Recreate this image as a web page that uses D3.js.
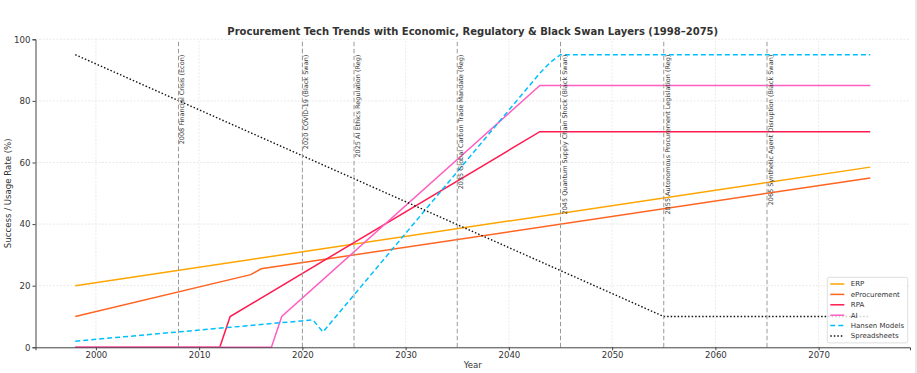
<!DOCTYPE html>
<html>
<head>
<meta charset="utf-8">
<script src="https://cdn.jsdelivr.net/npm/d3@7"></script>
<style>
	body { margin: 0; background: #fff; }
	svg { font-family: "DejaVu Sans", sans-serif; }
</style>
</head>
<body>
<div id="chart"></div>
<script>

// series breakpoints [year, value]
var erp = [ [1998, 20], [2075, 58.5] ];
var eproc = [ [1998, 10], [2015, 23.6], [2016, 25.5], [2075, 55] ];
var rpa = [ [1998, 0], [2012, 0], [2013, 10], [2043, 70], [2075, 70] ];
var ai = [ [1998, 0], [2017, 0], [2018, 10], [2043, 85], [2075, 85] ];
var hansen = [ [1998, 2], [2021, 8.9], [2022, 5], [2043, 89], [2044, 92.5], [2045, 95], [2075, 95] ];
var sheets = [ [1998, 95], [2055, 10], [2075, 10] ];

// event layers
var eventYears = [ 2008, 2020, 2025, 2035, 2045, 2055, 2065 ];
var eventLabels = [
	"2008 Financial Crisis (Econ)",
	"2020 COVID-19 (Black Swan)",
	"2025 AI Ethics Regulation (Reg)",
	"2035 Global Carbon Trade Mandate (Reg)",
	"2045 Quantum Supply Chain Shock (Black Swan)",
	"2055 Autonomous Procurement Legislation (Reg)",
	"2065 Synthetic Agent Disruption (Black Swan)"
];

var xTicks = [ 2000, 2010, 2020, 2030, 2040, 2050, 2060, 2070 ];
var yTicks = [ 0, 20, 40, 60, 80, 100 ];

var series = [
	{ name: "ERP", data: erp, color: "#ffa500", dash: null },
	{ name: "eProcurement", data: eproc, color: "#ff6421", dash: null },
	{ name: "RPA", data: rpa, color: "#ff1a4f", dash: null },
	{ name: "AI", data: ai, color: "#ff5ec0", dash: null },
	{ name: "Hansen Models", data: hansen, color: "#00bfff", dash: "5,3" },
	{ name: "Spreadsheets", data: sheets, color: "#111", dash: "1.5,2" }
];

var W = 917, H = 373;
var margin = { top: 39.3, right: 7, bottom: 25.7, left: 35.5 };

var svg = d3.select("#chart").append("svg")
	.attr("width", W)
	.attr("height", H);

var x = d3.scaleLinear()
	.domain([ 1994.15, 2078.85 ])
	.range([ margin.left, W - margin.right ]);

var y = d3.scaleLinear()
	.domain([ 0, 100 ])
	.range([ H - margin.bottom, margin.top ]);

// grid
var grid = svg.append("g");
grid.selectAll(".gx").data(xTicks).join("line")
	.attr("x1", d => x(d)).attr("x2", d => x(d))
	.attr("y1", y(0)).attr("y2", y(100))
	.attr("stroke", "#e4e4e4").attr("stroke-width", 0.8)
	.attr("stroke-dasharray", "2,1.5");
grid.selectAll(".gy").data(yTicks).join("line")
	.attr("x1", x.range()[0]).attr("x2", x.range()[1])
	.attr("y1", d => y(d)).attr("y2", d => y(d))
	.attr("stroke", "#e4e4e4").attr("stroke-width", 0.8)
	.attr("stroke-dasharray", "2,1.5");

// lines
var line = d3.line()
	.x(d => x(d[0]))
	.y(d => y(d[1]));

svg.append("g").selectAll("path")
	.data(series)
	.join("path")
		.attr("d", d => line(d.data))
		.attr("fill", "none")
		.attr("stroke", d => d.color)
		.attr("stroke-width", d => d.name === "Spreadsheets" ? 1.4 : 1.5)
		.attr("stroke-dasharray", d => d.dash);

// event lines + labels
var ev = svg.append("g");
ev.selectAll("line").data(eventYears).join("line")
	.attr("x1", d => x(d)).attr("x2", d => x(d))
	.attr("y1", y(0)).attr("y2", y(100))
	.attr("stroke", "#9a9a9a").attr("stroke-width", 1)
	.attr("stroke-dasharray", "4.5,2.5");
ev.selectAll("text").data(eventYears).join("text")
	.attr("transform", d => `translate(${x(d) + 0.8},${y(95)}) rotate(-90)`)
	.attr("text-anchor", "end")
	.attr("dy", "0.8em")
	.attr("font-size", "6.5px")
	.attr("fill", "#3a3a3a")
	.text((d, i) => eventLabels[i]);

// axes
var xaxis = svg.append("g")
	.attr("transform", `translate(0,${y(0)})`)
	.call(d3.axisBottom(x).tickValues(xTicks).tickFormat(d3.format("d")).tickSize(3).tickPadding(2));
var yaxis = svg.append("g")
	.attr("transform", `translate(${x.range()[0]},0)`)
	.call(d3.axisLeft(y).tickValues(yTicks).tickSize(3).tickPadding(2));

[xaxis, yaxis].forEach( a => {
	a.select(".domain").attr("stroke", "#444").attr("stroke-width", 1);
	a.selectAll(".tick line").attr("stroke", "#444");
	a.selectAll("text").attr("font-size", "8.6px").attr("fill", "#333")
		.attr("font-family", "DejaVu Sans");
});

// right edge border
svg.append("line")
	.attr("x1", W - 1).attr("x2", W - 1)
	.attr("y1", 0).attr("y2", H)
	.attr("stroke", "#d0d0d0");

// axis labels
svg.append("text")
	.attr("x", (x.range()[0] + x.range()[1]) / 2)
	.attr("y", 368)
	.attr("text-anchor", "middle")
	.attr("font-size", "8.6px")
	.attr("fill", "#333")
	.text("Year");

svg.append("text")
	.attr("transform", `translate(11,${(y(0) + y(100)) / 2}) rotate(-90)`)
	.attr("text-anchor", "middle")
	.attr("font-size", "8.6px")
	.attr("fill", "#333")
	.text("Success / Usage Rate (%)");

// title
svg.append("text")
	.attr("x", (x.range()[0] + x.range()[1]) / 2)
	.attr("y", 34.5)
	.attr("text-anchor", "middle")
	.attr("font-size", "10px")
	.attr("font-weight", "bold")
	.attr("fill", "#333")
	.text("Procurement Tech Trends with Economic, Regulatory & Black Swan Layers (1998\u20132075)");

// legend
var lg = svg.append("g").attr("transform", "translate(827.3,277.3)");
lg.append("rect")
	.attr("width", 80.4).attr("height", 65.6)
	.attr("rx", 2)
	.attr("fill", "#fff").attr("fill-opacity", 0.8)
	.attr("stroke", "#d6d6d6").attr("stroke-width", 0.8);

var items = lg.selectAll(".item").data(series).join("g")
	.attr("transform", (d, i) => `translate(0,${6.7 + i * 10.4})`);
items.append("line")
	.attr("x1", 3).attr("x2", 17)
	.attr("stroke", d => d.color)
	.attr("stroke-width", 1.5)
	.attr("stroke-dasharray", d => d.dash);
items.append("text")
	.attr("x", 23.5)
	.attr("dy", "0.35em")
	.attr("font-size", "7px")
	.attr("fill", "#333")
	.text(d => d.name);

</script>
</body>
</html>
